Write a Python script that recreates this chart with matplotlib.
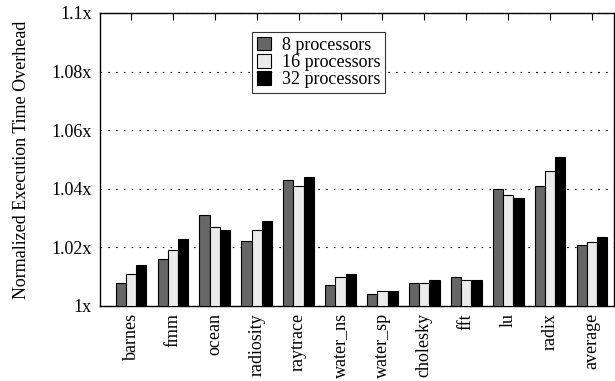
import numpy as np
import matplotlib.pyplot as plt

plt.rcParams['font.family'] = ['Liberation Serif', 'DejaVu Serif']

benchmarks = ["barnes", "fmm", "ocean", "radiosity", "raytrace", "water_ns",
              "water_sp", "cholesky", "fft", "lu", "radix", "average"]

# normalized execution time overhead per processor count
p8 = [1.008, 1.016, 1.031, 1.022, 1.043, 1.007, 1.004, 1.008, 1.010, 1.040, 1.041, 1.0208]
p16 = [1.011, 1.019, 1.027, 1.026, 1.041, 1.010, 1.005, 1.008, 1.009, 1.038, 1.046, 1.0218]
p32 = [1.014, 1.023, 1.026, 1.029, 1.044, 1.011, 1.005, 1.009, 1.009, 1.037, 1.051, 1.0234]

series = [("8 processors", p8, "#666666"),
          ("16 processors", p16, "#ebebeb"),
          ("32 processors", p32, "black")]

yticks = [1.0, 1.02, 1.04, 1.06, 1.08, 1.1]
ytick_labels = ["1x", "1.02x", "1.04x", "1.06x", "1.08x", "1.1x"]

fig = plt.figure(figsize=(6.15, 3.81), dpi=100)
ax = fig.add_axes([0.1626, 0.197, 0.836, 0.769])

x = np.arange(len(benchmarks))
w = 0.245
for i, (name, vals, col) in enumerate(series):
    ax.bar(x + (i - 1) * w, np.array(vals) - 1.0, w, bottom=1.0, color=col,
           edgecolor="black", linewidth=0.8, label=name, zorder=3)

ax.set_xlim(-0.74, 11.53)
ax.set_ylim(1.0, 1.1)
ax.set_yticks(yticks)
ax.set_yticklabels(ytick_labels, fontsize=13)
ax.set_xticks(x)
ax.set_xticklabels(benchmarks, rotation=90, fontsize=13)
ax.tick_params(axis="x", direction="in", length=5, top=True, bottom=True, pad=5)
ax.tick_params(axis="y", direction="in", length=0, pad=6)
ax.yaxis.grid(True, color="black", linestyle=(0, (1.5, 5.5)), linewidth=0.8, zorder=0)
ax.set_axisbelow(True)
for s in ax.spines.values():
    s.set_linewidth(1.0)

ax.set_ylabel("Normalized Execution Time Overhead", fontsize=13, labelpad=15)

leg = ax.legend(loc="upper left", bbox_to_anchor=(0.296, 0.935), borderaxespad=0,
                fontsize=13, frameon=True, fancybox=False, shadow=False,
                handlelength=0.8, handleheight=0.8, handletextpad=0.6,
                labelspacing=0.0, borderpad=0.25)
leg.get_frame().set_edgecolor("black")
leg.get_frame().set_linewidth(0.8)

fig.savefig("out.png", dpi=100)
